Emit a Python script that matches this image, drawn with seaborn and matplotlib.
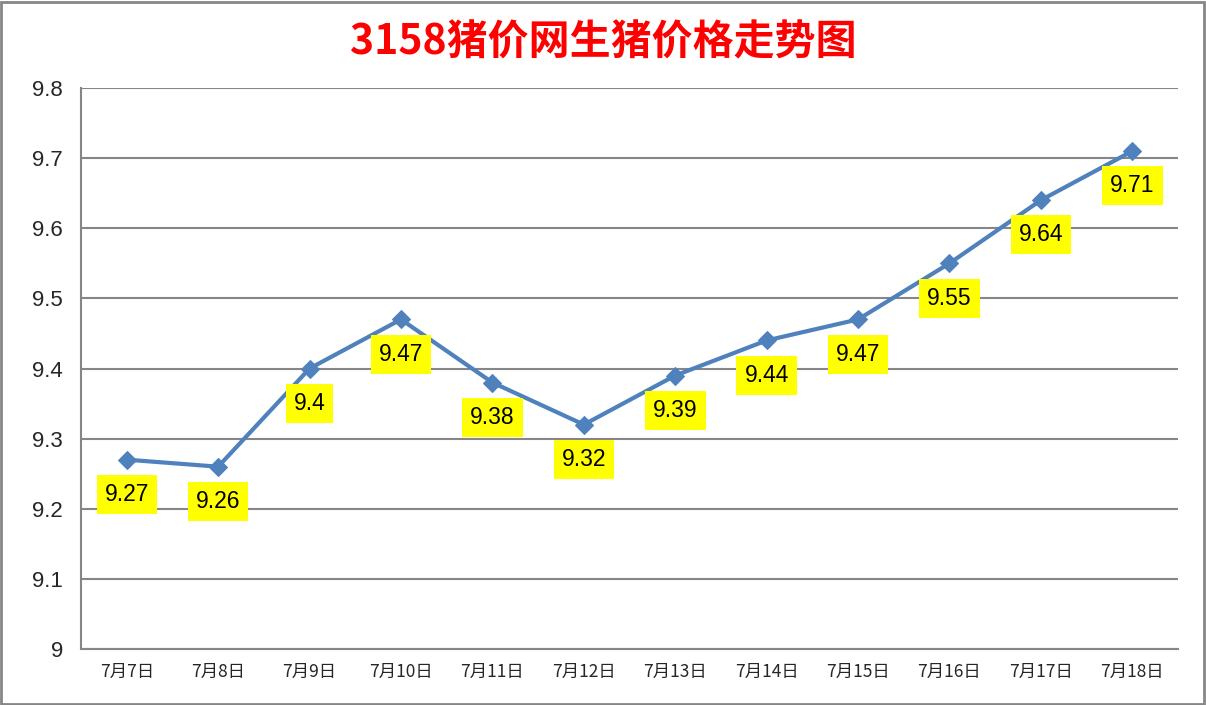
import numpy as np
import pandas as pd
import matplotlib.pyplot as plt
import seaborn as sns
from matplotlib.patches import Rectangle

dates = ["7月7日", "7月8日", "7月9日", "7月10日", "7月11日", "7月12日",
         "7月13日", "7月14日", "7月15日", "7月16日", "7月17日", "7月18日"]
prices = [9.27, 9.26, 9.40, 9.47, 9.38, 9.32, 9.39, 9.44, 9.47, 9.55, 9.64, 9.71]
price_labels = ["9.27", "9.26", "9.4", "9.47", "9.38", "9.32",
                "9.39", "9.44", "9.47", "9.55", "9.64", "9.71"]
y_ticks = [9.0, 9.1, 9.2, 9.3, 9.4, 9.5, 9.6, 9.7, 9.8]
y_ticklabels = ["9", "9.1", "9.2", "9.3", "9.4", "9.5", "9.6", "9.7", "9.8"]

sns.set_style("white")
plt.rcParams['font.family'] = ['Noto Sans CJK SC', 'DejaVu Sans']

df = pd.DataFrame({"idx": np.arange(len(dates)), "price": prices})

fig = plt.figure(figsize=(12.06, 7.05), dpi=100)
ax = fig.add_axes([0.0672, 0.0794, 0.9096, 0.7958])

sns.lineplot(data=df, x="idx", y="price", ax=ax, color="#4F81BD",
             linewidth=3, marker="D", markersize=9, markeredgecolor="#4F81BD")

# 数据标签 (黄色底)
for i, (v, s) in enumerate(zip(prices, price_labels)):
    ax.annotate(s, (i, v), xytext=(0, -25), textcoords="offset points",
                ha="center", va="center", fontsize=16.5, color="black",
                family=["Liberation Sans", "DejaVu Sans"],
                bbox=dict(boxstyle="square,pad=0.35", fc="#FFFF00", ec="none"))

ax.set_xlim(-0.5, len(dates) - 0.5)
ax.set_ylim(9.0, 9.8)
ax.set_yticks(y_ticks)
ax.set_yticklabels(y_ticklabels, fontsize=16, family=["Liberation Sans", "DejaVu Sans"])
ax.set_xticks(range(len(dates)))
ax.set_xticklabels(dates, fontsize=12.5)
ax.tick_params(axis="both", length=0)
ax.tick_params(axis="y", pad=13)
ax.tick_params(axis="x", pad=10)
ax.set_xlabel("")
ax.set_ylabel("")
ax.yaxis.grid(True, color="#868686", linewidth=1.5)
ax.set_axisbelow(True)
for side in ["top", "right"]:
    ax.spines[side].set_visible(False)
for side in ["left", "bottom"]:
    ax.spines[side].set_color("#868686")
    ax.spines[side].set_linewidth(1.5)

fig.text(0.5, 0.94, "3158猪价网生猪价格走势图", ha="center", va="center",
         fontsize=29.5, fontweight="bold", color="#FF0000")

# 外框
fig.patches.append(Rectangle((0.001, 0.001), 0.997, 0.996, transform=fig.transFigure,
                             fill=False, edgecolor="#868686", linewidth=2))

fig.savefig("out.png", dpi=100)
